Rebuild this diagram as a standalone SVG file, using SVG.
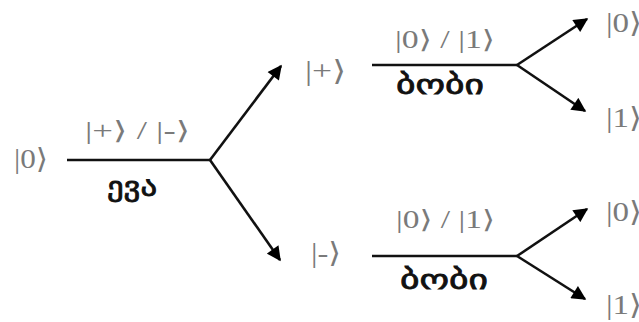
<svg xmlns="http://www.w3.org/2000/svg" width="639" height="322" viewBox="0 0 639 322">
<defs>
<marker id="ah" viewBox="0 0 10 10" refX="9" refY="5" markerWidth="6" markerHeight="5.5" markerUnits="strokeWidth" orient="auto">
<path d="M0,0 L10,5 L0,10 z" fill="#000"/>
</marker>
<style>
.ket{font-family:"Liberation Serif","DejaVu Serif",serif;font-size:28px;fill:#7a7a7a}
.lbl{font-family:"Liberation Serif","DejaVu Serif",serif;font-size:25px;fill:#7a7a7a}
.geo{font-family:"DejaVu Sans","Noto Sans",sans-serif;font-size:28px;font-weight:normal;fill:#111;stroke:#111;stroke-width:0.8}
.ln{stroke:#111;stroke-width:2.6;fill:none}
.ar{stroke:#111;stroke-width:2.6;fill:none;marker-end:url(#ah)}
</style>
</defs>
<g id="connectors">
<line class="ln" x1="67" y1="160" x2="210" y2="160"/>
<line class="ar" x1="210" y1="160" x2="281" y2="66"/>
<line class="ar" x1="210" y1="160" x2="280" y2="260"/>
<line class="ln" x1="372" y1="65" x2="517" y2="65"/>
<line class="ar" x1="517" y1="65" x2="587" y2="19"/>
<line class="ar" x1="517" y1="65" x2="585" y2="111"/>
<line class="ln" x1="372" y1="256" x2="517" y2="256"/>
<line class="ar" x1="517" y1="256" x2="587" y2="209"/>
<line class="ar" x1="517" y1="256" x2="585" y2="299"/>
</g>
<g id="n-root"><text class="ket" x="14" y="168" font-size="26" textLength="34" lengthAdjust="spacingAndGlyphs">|0⟩</text></g>
<g id="e-eve"><text class="lbl" x="85" y="139" textLength="105" lengthAdjust="spacingAndGlyphs">|+⟩ / |-⟩</text><text class="geo" x="107" y="196" font-size="25" textLength="50" lengthAdjust="spacingAndGlyphs">ევა</text></g>
<g id="n-plus"><text class="ket" x="305" y="80" textLength="41" lengthAdjust="spacingAndGlyphs">|+⟩</text></g>
<g id="e-bob1"><text class="lbl" x="395" y="48" textLength="100" lengthAdjust="spacingAndGlyphs">|0⟩ / |1⟩</text><text class="geo" x="396" y="94" textLength="88" lengthAdjust="spacingAndGlyphs">ბობი</text></g>
<g id="n-minus"><text class="ket" x="311" y="262" textLength="30" lengthAdjust="spacingAndGlyphs">|-⟩</text></g>
<g id="e-bob2"><text class="lbl" x="396" y="228" textLength="99" lengthAdjust="spacingAndGlyphs">|0⟩ / |1⟩</text><text class="geo" x="400" y="289" textLength="88" lengthAdjust="spacingAndGlyphs">ბობი</text></g>
<g id="n-00"><text class="ket" x="606" y="32" textLength="36" lengthAdjust="spacingAndGlyphs">|0⟩</text></g>
<g id="n-01"><text class="ket" x="606" y="127" textLength="36" lengthAdjust="spacingAndGlyphs">|1⟩</text></g>
<g id="n-10"><text class="ket" x="606" y="221" textLength="36" lengthAdjust="spacingAndGlyphs">|0⟩</text></g>
<g id="n-11"><text class="ket" x="606" y="314" textLength="36" lengthAdjust="spacingAndGlyphs">|1⟩</text></g>
</svg>
